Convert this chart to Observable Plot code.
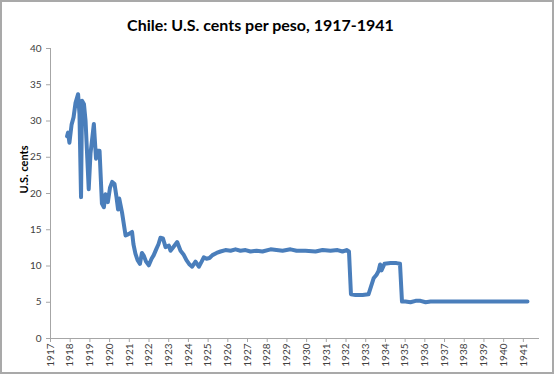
<!DOCTYPE html>
<html>
<head>
<meta charset="utf-8">
<script src="https://cdn.jsdelivr.net/npm/d3@7"></script>
<script src="https://cdn.jsdelivr.net/npm/@observablehq/plot@0.6"></script>
<style>
  html, body { margin: 0; padding: 0; background: #fff; }
  #wrap { position: relative; width: 554px; height: 374px; overflow: hidden; font-family: Lato, "Open Sans", sans-serif; }
  #title { position: absolute; left: 0; top: 15px; width: 521px; text-align: center; font-size: 16px; font-weight: bold; color: #000; }
  #chart { position: absolute; left: 0; top: 40px; }
  #border { position: absolute; left: 0; top: 0; width: 554px; height: 374px; box-sizing: border-box; border: 2px solid #a9a9a9; pointer-events: none; }
</style>
</head>
<body>
<div id="wrap">
  <div id="title">Chile: U.S. cents per peso, 1917-1941</div>
  <div id="chart"></div>
  <div id="border"></div>
</div>
<script>
// Decimal year of each observation
const years = [
  1917.84, 1917.89, 1917.96, 1918.07, 1918.17, 1918.27, 1918.40, 1918.47, 1918.55, 1918.60,
  1918.70, 1918.78, 1918.94, 1919.03, 1919.20, 1919.31, 1919.39, 1919.49, 1919.61, 1919.71,
  1919.79, 1919.91, 1920.02, 1920.13, 1920.25, 1920.35, 1920.43, 1920.49, 1920.63, 1920.81,
  1920.96, 1921.14, 1921.21, 1921.31, 1921.42, 1921.54, 1921.64, 1921.74, 1921.85, 1921.99,
  1922.13, 1922.24, 1922.38, 1922.48, 1922.58, 1922.71, 1922.84, 1923.01, 1923.09, 1923.26,
  1923.43, 1923.60, 1923.75, 1923.90, 1924.06, 1924.19, 1924.36, 1924.53, 1924.67, 1924.78,
  1924.92, 1925.07, 1925.22, 1925.43, 1925.63, 1925.88, 1926.14, 1926.39, 1926.64, 1926.90,
  1927.15, 1927.46, 1927.76, 1928.17, 1928.47, 1928.78, 1929.18, 1929.49, 1929.94, 1930.45,
  1930.81, 1931.21, 1931.57, 1931.82, 1932.03, 1932.15, 1932.25, 1932.48, 1932.84, 1933.14,
  1933.27, 1933.40, 1933.55, 1933.65, 1933.73, 1933.80, 1933.95, 1934.26, 1934.56, 1934.74,
  1934.84, 1935.02, 1935.27, 1935.53, 1935.78, 1936.04, 1936.29, 1936.80, 1941.21
];
// U.S. cents per peso
const cents = [
  27.9, 28.4, 27.0, 29.5, 30.5, 32.5, 33.7, 31.0, 19.5, 32.8,
  32.3, 30.0, 20.6, 25.5, 29.6, 24.8, 25.9, 25.9, 18.6, 18.1,
  19.9, 18.8, 20.8, 21.6, 21.3, 19.5, 17.8, 19.3, 17.4, 14.2,
  14.4, 14.7, 13.0, 11.7, 10.8, 10.3, 11.8, 11.4, 10.6, 10.1,
  11.0, 11.5, 12.4, 13.0, 13.9, 13.8, 12.6, 12.8, 12.1, 12.7,
  13.3, 12.1, 11.6, 10.8, 10.2, 9.9, 10.6, 9.9, 10.6, 11.2,
  11.0, 11.1, 11.5, 11.8, 12.0, 12.2, 12.1, 12.3, 12.1, 12.2,
  12.0, 12.1, 12.0, 12.3, 12.2, 12.1, 12.3, 12.1, 12.1, 12.0,
  12.2, 12.1, 12.2, 12.0, 12.2, 12.0, 6.1, 6.0, 6.0, 6.1,
  7.2, 8.3, 8.8, 9.3, 10.2, 9.4, 10.3, 10.4, 10.4, 10.3,
  5.1, 5.1, 5.0, 5.2, 5.2, 5.0, 5.1, 5.1, 5.1
];
const yearTicks = [1917, 1918, 1919, 1920, 1921, 1922, 1923, 1924, 1925, 1926, 1927, 1928, 1929,
  1930, 1931, 1932, 1933, 1934, 1935, 1936, 1937, 1938, 1939, 1940, 1941];
const centTicks = [0, 5, 10, 15, 20, 25, 30, 35, 40];
const yLabel = "U.S. cents";

const data = years.map((t, i) => ({year: t, cents: cents[i]}));

const chart = Plot.plot({
  width: 554,
  height: 334,
  marginTop: 8,
  marginLeft: 50,
  marginRight: 15,
  marginBottom: 36,
  style: {fontFamily: "Lato, 'Open Sans', sans-serif", background: "transparent"},
  x: {domain: [1917, 1941.82]},
  y: {domain: [0, 40]},
  marks: [
    Plot.axisX({ticks: yearTicks, tickFormat: d => String(d), tickRotate: -90, tickSize: 4, tickPadding: 1,
      stroke: "#a6a6a6", fill: "#404040", fontSize: 10, label: null}),
    Plot.axisY({ticks: centTicks, tickSize: 4, tickPadding: 5, stroke: "#a6a6a6", fill: "#404040",
      fontSize: 10, label: null}),
    Plot.ruleX([1917], {stroke: "#a6a6a6"}),
    Plot.ruleY([0], {stroke: "#a6a6a6"}),
    Plot.text([yLabel], {frameAnchor: "left", dx: -26, rotate: -90, fontWeight: "bold", fontSize: 11, fill: "#000"}),
    Plot.line(data, {x: "year", y: "cents", stroke: "#4a7ebb", strokeWidth: 4, strokeLinejoin: "round", curve: "linear"})
  ]
});
document.getElementById("chart").appendChild(chart);
</script>
</body>
</html>
